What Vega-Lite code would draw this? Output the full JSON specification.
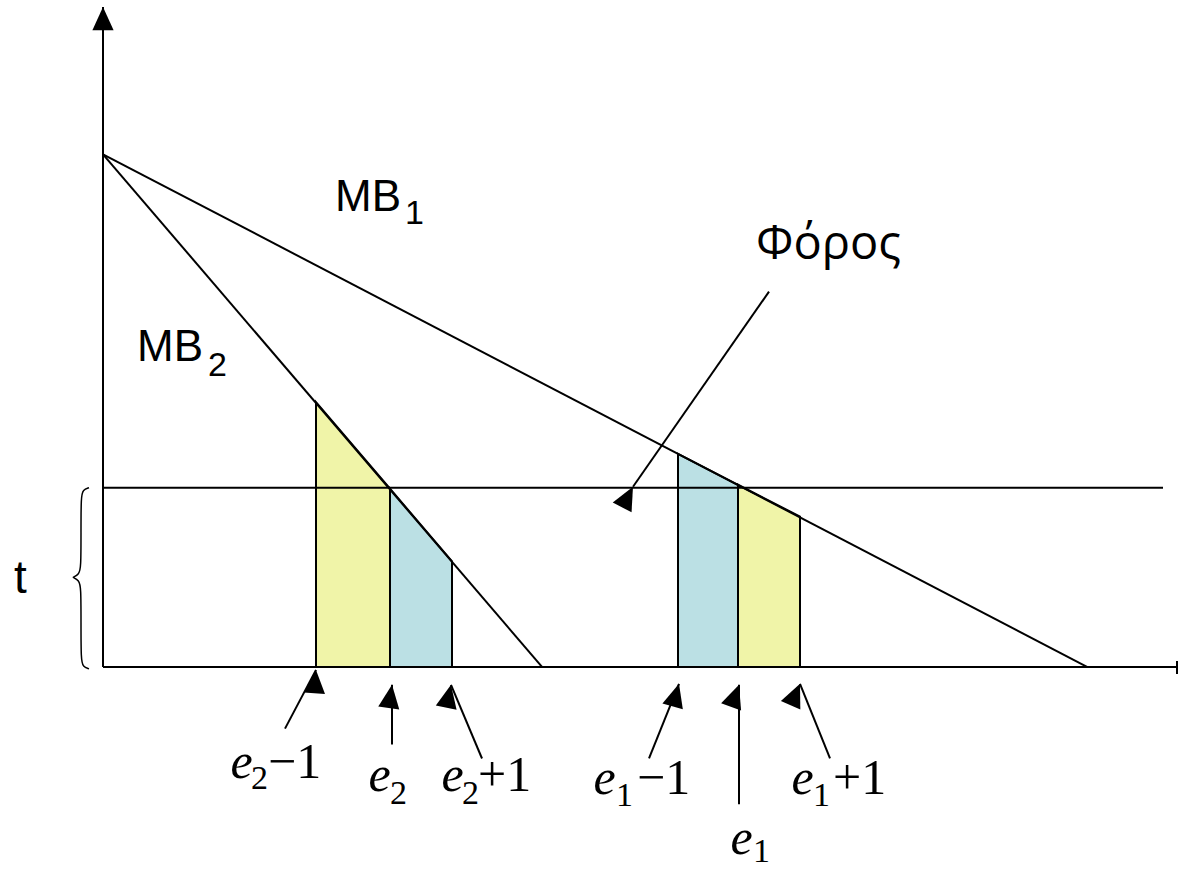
{
  "$schema": "https://vega.github.io/schema/vega-lite/v6.json",
  "width": 1178,
  "height": 869,
  "autosize": {"type": "fit", "contains": "padding"},
  "padding": 0,
  "background": "white",
  "config": {"view": {"stroke": null}},
  "datasets": {
    "segments": [
      {"name": "x axis", "x": 0, "y": 0, "x2": 1074, "y2": 0},
      {"name": "x axis end", "x": 1074, "y": -7, "x2": 1074, "y2": 6},
      {"name": "MB1", "x": 0, "y": 515, "x2": 984, "y2": 0},
      {"name": "MB2", "x": 0, "y": 515, "x2": 439, "y2": 0},
      {"name": "tax", "x": 0, "y": 180, "x2": 1060, "y2": 180}
    ],
    "polygons": [
      {"poly": "left e2-1..e2", "tone": "yellow", "x": 213, "y": 266},
      {"poly": "left e2-1..e2", "tone": "yellow", "x": 287, "y": 179},
      {"poly": "left e2..e2+1", "tone": "blue", "x": 287, "y": 179},
      {"poly": "left e2..e2+1", "tone": "blue", "x": 349, "y": 106},
      {"poly": "right e1-1..e1", "tone": "blue", "x": 575, "y": 214},
      {"poly": "right e1-1..e1", "tone": "blue", "x": 635, "y": 183},
      {"poly": "right e1..e1+1", "tone": "yellow", "x": 635, "y": 183},
      {"poly": "right e1..e1+1", "tone": "yellow", "x": 697, "y": 151}
    ],
    "arrows": [
      {"id": "yaxis", "x": 0, "y": 0, "x2": 0, "y2": 663},
      {"id": "e2-1", "x": 182, "y": -62, "x2": 213, "y2": -3},
      {"id": "e2", "x": 289, "y": -78, "x2": 289, "y2": -18},
      {"id": "e2+1", "x": 379, "y": -92, "x2": 348, "y2": -18},
      {"id": "e1-1", "x": 546, "y": -92, "x2": 576, "y2": -17},
      {"id": "e1", "x": 636, "y": -138, "x2": 636, "y2": -18},
      {"id": "e1+1", "x": 727, "y": -92, "x2": 697, "y2": -17},
      {"id": "tax", "x": 666, "y": 377, "x2": 530, "y2": 181}
    ],
    "brace": [
      {"i": 0, "x": -14, "y": 180},
      {"i": 1, "x": -20, "y": 178},
      {"i": 2, "x": -22, "y": 171},
      {"i": 3, "x": -22, "y": 135},
      {"i": 4, "x": -22, "y": 100},
      {"i": 5, "x": -24, "y": 93},
      {"i": 6, "x": -30, "y": 90},
      {"i": 7, "x": -30, "y": 90},
      {"i": 8, "x": -24, "y": 87},
      {"i": 9, "x": -22, "y": 80},
      {"i": 10, "x": -22, "y": 45},
      {"i": 11, "x": -22, "y": 7},
      {"i": 12, "x": -20, "y": 0},
      {"i": 13, "x": -14, "y": -2}
    ],
    "sansLabels": [
      {"text": "MB", "x": 232, "y": 458},
      {"text": "MB", "x": 34, "y": 307}
    ],
    "tLabel": [
      {"text": "t", "x": -89, "y": 74}
    ],
    "sansSubs": [
      {"text": "1", "x": 302, "y": 445},
      {"text": "2", "x": 105, "y": 292}
    ],
    "greek": [
      {"text": "Φόρος", "x": 653, "y": 410}
    ],
    "eLetters": [
      {"text": "e", "x": 127.5, "y": -112},
      {"text": "e", "x": 265.5, "y": -125},
      {"text": "e", "x": 338.5, "y": -125},
      {"text": "e", "x": 490.5, "y": -128},
      {"text": "e", "x": 627.5, "y": -188},
      {"text": "e", "x": 688.5, "y": -128}
    ],
    "eSubs": [
      {"text": "2", "x": 148, "y": -123},
      {"text": "2", "x": 287, "y": -138},
      {"text": "2", "x": 359, "y": -138},
      {"text": "1", "x": 513, "y": -140},
      {"text": "1", "x": 650, "y": -196},
      {"text": "1", "x": 710, "y": -140}
    ],
    "ops": [
      {"text": "−1", "x": 165, "y": -112},
      {"text": "+1", "x": 375, "y": -125},
      {"text": "−1", "x": 534, "y": -128},
      {"text": "+1", "x": 730, "y": -128}
    ]
  },
  "layer": [
    {
      "data": {"name": "polygons"},
      "mark": {"type": "area", "stroke": "black", "strokeWidth": 2, "fillOpacity": 1, "strokeJoin": "miter"},
      "encoding": {
        "x": {"field": "x", "type": "quantitative", "scale": {"domain": [-103, 1075], "nice": false, "zero": false}, "axis": null},
        "y": {"field": "y", "type": "quantitative", "scale": {"domain": [-199, 670], "nice": false, "zero": false}, "axis": null},
        "y2": {"datum": 0},
        "detail": {"field": "poly"},
        "color": {"field": "tone", "type": "nominal", "scale": {"domain": ["yellow", "blue"], "range": ["#F0F4A8", "#BBE0E4"]}, "legend": null}
      }
    },
    {
      "data": {"name": "segments"},
      "mark": {"type": "rule", "color": "black", "strokeWidth": 2},
      "encoding": {
        "x": {"field": "x", "type": "quantitative", "scale": {"domain": [-103, 1075], "nice": false, "zero": false}, "axis": null},
        "y": {"field": "y", "type": "quantitative", "scale": {"domain": [-199, 670], "nice": false, "zero": false}, "axis": null},
        "x2": {"field": "x2"},
        "y2": {"field": "y2"}
      }
    },
    {
      "data": {"name": "arrows"},
      "mark": {"type": "rule", "color": "black", "strokeWidth": 2},
      "encoding": {
        "x": {"field": "x", "type": "quantitative", "scale": {"domain": [-103, 1075], "nice": false, "zero": false}, "axis": null},
        "y": {"field": "y", "type": "quantitative", "scale": {"domain": [-199, 670], "nice": false, "zero": false}, "axis": null},
        "x2": {"field": "x2"},
        "y2": {"field": "y2"}
      }
    },
    {
      "data": {"name": "arrows"},
      "mark": {"type": "point", "shape": "M0,0L-0.5,1.1L0.5,1.1Z", "filled": true, "color": "black", "opacity": 1, "size": 1800},
      "encoding": {
        "x": {"field": "x2", "type": "quantitative", "scale": {"domain": [-103, 1075], "nice": false, "zero": false}, "axis": null},
        "y": {"field": "y2", "type": "quantitative", "scale": {"domain": [-199, 670], "nice": false, "zero": false}, "axis": null},
        "angle": {"field": "id", "type": "ordinal", "scale": {"domain": ["yaxis", "e2-1", "e2", "e2+1", "e1-1", "e1", "e1+1", "tax"], "range": [0, 27.7, 0, 337.3, 21.8, 0, 338.2, 214.8]}, "legend": null}
      }
    },
    {
      "data": {"name": "brace"},
      "mark": {"type": "line", "color": "black", "strokeWidth": 1.5, "interpolate": "basis"},
      "encoding": {
        "x": {"field": "x", "type": "quantitative", "scale": {"domain": [-103, 1075], "nice": false, "zero": false}, "axis": null},
        "y": {"field": "y", "type": "quantitative", "scale": {"domain": [-199, 670], "nice": false, "zero": false}, "axis": null},
        "order": {"field": "i", "type": "quantitative"}
      }
    },
    {
      "data": {"name": "sansLabels"},
      "mark": {"type": "text", "font": "Liberation Sans", "fontSize": 44, "align": "left", "baseline": "alphabetic", "color": "black"},
      "encoding": {
        "x": {"field": "x", "type": "quantitative", "scale": {"domain": [-103, 1075], "nice": false, "zero": false}, "axis": null},
        "y": {"field": "y", "type": "quantitative", "scale": {"domain": [-199, 670], "nice": false, "zero": false}, "axis": null},
        "text": {"field": "text"}
      }
    },
    {
      "data": {"name": "tLabel"},
      "mark": {"type": "text", "font": "Liberation Sans", "fontSize": 46, "align": "left", "baseline": "alphabetic", "color": "black"},
      "encoding": {
        "x": {"field": "x", "type": "quantitative", "scale": {"domain": [-103, 1075], "nice": false, "zero": false}, "axis": null},
        "y": {"field": "y", "type": "quantitative", "scale": {"domain": [-199, 670], "nice": false, "zero": false}, "axis": null},
        "text": {"field": "text"}
      }
    },
    {
      "data": {"name": "sansSubs"},
      "mark": {"type": "text", "font": "Liberation Sans", "fontSize": 34, "align": "left", "baseline": "alphabetic", "color": "black"},
      "encoding": {
        "x": {"field": "x", "type": "quantitative", "scale": {"domain": [-103, 1075], "nice": false, "zero": false}, "axis": null},
        "y": {"field": "y", "type": "quantitative", "scale": {"domain": [-199, 670], "nice": false, "zero": false}, "axis": null},
        "text": {"field": "text"}
      }
    },
    {
      "data": {"name": "greek"},
      "mark": {"type": "text", "font": "Open Sans", "fontSize": 47, "align": "left", "baseline": "alphabetic", "color": "black"},
      "encoding": {
        "x": {"field": "x", "type": "quantitative", "scale": {"domain": [-103, 1075], "nice": false, "zero": false}, "axis": null},
        "y": {"field": "y", "type": "quantitative", "scale": {"domain": [-199, 670], "nice": false, "zero": false}, "axis": null},
        "text": {"field": "text"}
      }
    },
    {
      "data": {"name": "eLetters"},
      "mark": {"type": "text", "font": "Liberation Serif", "fontStyle": "italic", "fontSize": 50, "align": "left", "baseline": "alphabetic", "color": "black"},
      "encoding": {
        "x": {"field": "x", "type": "quantitative", "scale": {"domain": [-103, 1075], "nice": false, "zero": false}, "axis": null},
        "y": {"field": "y", "type": "quantitative", "scale": {"domain": [-199, 670], "nice": false, "zero": false}, "axis": null},
        "text": {"field": "text"}
      }
    },
    {
      "data": {"name": "eSubs"},
      "mark": {"type": "text", "font": "Liberation Serif", "fontSize": 34, "align": "left", "baseline": "alphabetic", "color": "black"},
      "encoding": {
        "x": {"field": "x", "type": "quantitative", "scale": {"domain": [-103, 1075], "nice": false, "zero": false}, "axis": null},
        "y": {"field": "y", "type": "quantitative", "scale": {"domain": [-199, 670], "nice": false, "zero": false}, "axis": null},
        "text": {"field": "text"}
      }
    },
    {
      "data": {"name": "ops"},
      "mark": {"type": "text", "font": "Liberation Serif", "fontSize": 50, "align": "left", "baseline": "alphabetic", "color": "black"},
      "encoding": {
        "x": {"field": "x", "type": "quantitative", "scale": {"domain": [-103, 1075], "nice": false, "zero": false}, "axis": null},
        "y": {"field": "y", "type": "quantitative", "scale": {"domain": [-199, 670], "nice": false, "zero": false}, "axis": null},
        "text": {"field": "text"}
      }
    }
  ]
}
